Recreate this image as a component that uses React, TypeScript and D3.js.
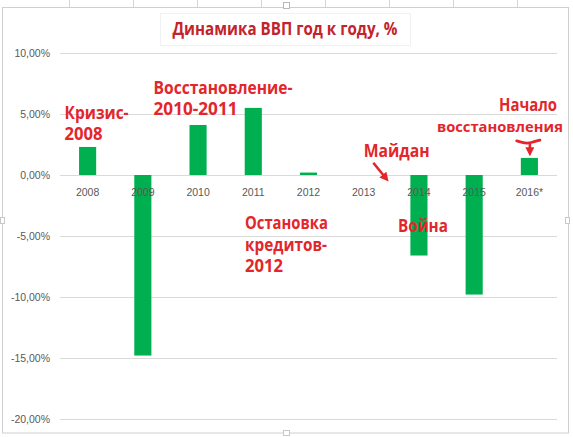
import * as d3 from 'd3';

// chart data
const categories = ['2008', '2009', '2010', '2011', '2012', '2013', '2014', '2015', '2016*'];
const gdpGrowth = [2.3, -14.8, 4.1, 5.5, 0.2, 0, -6.6, -9.8, 1.4];
const yTicks = [10, 5, 0, -5, -10, -15, -20];

// hand-written notes, anchored to a category and a value
const noteLines = [
    ['Кризис-', '2008'],
    ['Восстановление-', '2010-2011'],
    ['Начало'],
    ['восстановления'],
    ['Майдан'],
    ['Остановка', 'кредитов-', '2012'],
    ['Война'],
];
const noteCats = ['2008', '2009', '2016*', '2016*', '2013', '2011', '2014'];
const noteValues = [4.6, 6.64, 5.25, 3.5, 1.5, -4.43, -4.65];

const W = 573;
const H = 437;
const TITLE = 'Динамика ВВП год к году, %';

const fmt = d3.formatLocale({
    decimal: ',',
    thousands: ' ',
    grouping: [3],
    currency: ['', ''],
    minus: '-',
}).format('.2f');

export default function App() {
    const x = d3.scaleBand<string>()
        .domain(categories)
        .range([60, 557])
        .paddingInner(0.69)
        .paddingOuter(0.345);
    const y = d3.scaleLinear().domain([-20, 10]).range([419, 53]);

    const cx = (cat: string, dx = 0) => (x(cat) ?? 0) + x.bandwidth() / 2 + dx;

    // per-note x offset from the category centre, line widths and font size (text fitting)
    const noteDx = [-23, 10.7, -30.4, -92.5, 0, -8.3, -21];
    const noteWidths = [[64, 38], [139, 84], [58], [126], [66], [83, 82, 38], [50]];
    const noteSize = [17, 17, 17, 15, 17, 17, 17];
    const lineH = 21.5;

    const red = '#e2262b';
    const font = "'Open Sans', 'Liberation Sans', sans-serif";
    const axisFont = "'Liberation Sans', Arial, sans-serif";

    // arrows (data space)
    const maidanArrow = d3.line()([
        [cx('2013', 9.6), y(1.0)],
        [cx('2013', 22), y(-0.25)],
    ]);
    const recoveryHook = d3.line().curve(d3.curveBasis)([
        [cx('2016*', -12.7), y(2.8)],
        [cx('2016*', -2), y(2.55)],
        [cx('2016*', 4), y(2.72)],
        [cx('2016*', 10.6), y(2.86)],
    ]);
    const recoveryDrop = d3.line()([
        [cx('2016*', 0.5), y(2.65)],
        [cx('2016*', 0.5), y(1.9)],
    ]);

    return (
        <>
            <style>{'body{margin:0}'}</style>
            <svg width={W} height={H} style={{ display: 'block', background: '#fff' }}>
                <defs>
                    <marker id="head" viewBox="0 0 10 10" refX="5" refY="5" markerWidth="9" markerHeight="9"
                        markerUnits="userSpaceOnUse" orient="auto">
                        <path d="M0,0 L10,5 L0,10 z" fill={red} />
                    </marker>
                </defs>

                {/* spreadsheet cells behind the chart */}
                {d3.range(69, W, 64).map((gx) => (
                    <line key={gx} x1={gx + 0.5} x2={gx + 0.5} y1={0} y2={8} stroke="#d4d4d4" />
                ))}
                <rect x={2.5} y={7.5} width={566} height={425.5} fill="#fff" stroke="#cfcfcf" />
                <rect x={283.5} y={2.5} width={6} height={6} fill="#fff" stroke="#b8b8b8" />
                <rect x={0.5} y={217.5} width={4} height={6} fill="#fff" stroke="#c8c8c8" />
                <rect x={565.5} y={217.5} width={4} height={6} fill="#fff" stroke="#c8c8c8" />
                <rect x={283.5} y={430.5} width={6} height={5} fill="#fff" stroke="#c8c8c8" />

                {/* title */}
                <rect x={160.5} y={13.5} width={250} height={32} fill="none" stroke="#f1f1f1" />
                <text x={172.5} y={35} fontFamily={font} fontWeight={700} fontSize={18.5}
                    fill="#c3232b" textLength={225} lengthAdjust="spacingAndGlyphs">
                    {TITLE}
                </text>

                {/* grid and y axis */}
                {yTicks.map((t) => (
                    <g key={t}>
                        <line x1={60} x2={557} y1={Math.round(y(t)) + 0.5} y2={Math.round(y(t)) + 0.5}
                            stroke="#d9d9d9" />
                        <text x={50} y={y(t)} dy="0.35em" textAnchor="end" fontFamily={axisFont}
                            fontSize={10.5} fill="#595959">
                            {fmt(t) + '%'}
                        </text>
                    </g>
                ))}

                {/* bars */}
                {categories.map((c, i) => {
                    const v = gdpGrowth[i];
                    const top = y(Math.max(0, v));
                    const h = Math.abs(y(v) - y(0));
                    return v === 0 ? null : (
                        <rect key={c} x={x(c)} y={top} width={x.bandwidth()} height={h} fill="#00b050" />
                    );
                })}

                {/* category labels */}
                {categories.map((c) => (
                    <text key={c} x={cx(c)} y={196} textAnchor="middle" fontFamily={axisFont}
                        fontSize={10.5} fill="#595959">
                        {c}
                    </text>
                ))}

                {/* annotations */}
                {noteLines.map((lines, i) => (
                    <g key={i}>
                        {lines.map((ln, j) => (
                            <text key={j} x={cx(noteCats[i], noteDx[i])} y={y(noteValues[i]) + j * lineH}
                                fontFamily={font} fontWeight={700} fontSize={noteSize[i]} fill={red}
                                textLength={noteWidths[i][j]} lengthAdjust="spacingAndGlyphs">
                                {ln}
                            </text>
                        ))}
                    </g>
                ))}

                <path d={maidanArrow ?? ''} stroke={red} strokeWidth={2.6} fill="none" markerEnd="url(#head)" />
                <path d={recoveryHook ?? ''} stroke={red} strokeWidth={2.8} fill="none" strokeLinecap="round" />
                <path d={recoveryDrop ?? ''} stroke={red} strokeWidth={2.6} fill="none" markerEnd="url(#head)" />
            </svg>
        </>
    );
}
